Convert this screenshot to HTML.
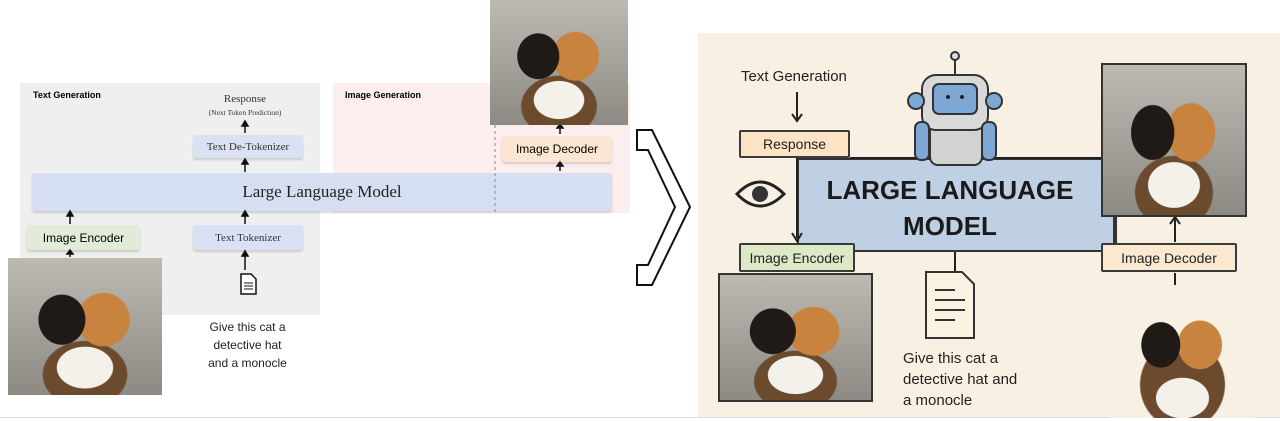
<!DOCTYPE html>
<html><head><meta charset="utf-8"><style>
*{margin:0;padding:0;box-sizing:border-box}
body{width:1280px;height:421px;background:#fff;position:relative;overflow:hidden;font-family:"Liberation Sans",sans-serif}
.a{position:absolute}
.box{position:absolute;display:flex;align-items:center;justify-content:center;border-radius:3px;box-shadow:0 2px 2px rgba(0,0,0,.15)}
.serif{font-family:"Liberation Serif",serif}
.cat{position:absolute;overflow:hidden;background:
radial-gradient(ellipse 30% 25% at 50% 80%,#f4f1ea 60%,transparent 62%),
radial-gradient(ellipse 25% 30% at 35% 45%,#1f1a16 60%,transparent 62%),
radial-gradient(ellipse 28% 32% at 62% 45%,#c8843f 60%,transparent 62%),
radial-gradient(ellipse 45% 40% at 50% 85%,#6b4a2e 60%,transparent 62%),
linear-gradient(#bdbab2,#8d8a84)}
.rbox{position:absolute;border:2px solid #3a3a3a;display:flex;align-items:center;justify-content:center;font-size:14px;color:#222;border-radius:2px}
</style></head><body>
<!-- left panel -->
<div class="a" style="left:20px;top:83px;width:300px;height:232px;background:#efefef"></div>
<div class="a" style="left:333px;top:83px;width:297px;height:130px;background:#fdeeee"></div>
<div class="a" style="left:33px;top:90px;font-size:9px;font-weight:bold">Text Generation</div>
<div class="a" style="left:345px;top:90px;font-size:9px;font-weight:bold">Image Generation</div>
<div class="a serif" style="left:195px;top:93px;width:100px;text-align:center;font-size:11px;color:#333">Response</div>
<div class="a serif" style="left:185px;top:108px;width:120px;text-align:center;font-size:7.5px;color:#333">(Next Token Prediction)</div>
<div class="box serif" style="left:193px;top:135px;width:110px;height:23px;background:#d9e1f3;font-size:11px;color:#333">Text De-Tokenizer</div>
<div class="box serif" style="left:32px;top:173px;width:580px;height:38px;background:#d6dff2;font-size:17px;color:#222">Large Language Model</div>
<div class="box" style="left:27px;top:225px;width:113px;height:25px;background:#e1ecd8;font-size:12px">Image Encoder</div>
<div class="box serif" style="left:193px;top:225px;width:110px;height:25px;background:#d9e1f3;font-size:11px;color:#333">Text Tokenizer</div>
<div class="box" style="left:502px;top:136px;width:110px;height:26px;background:#fae6d2;font-size:12px">Image Decoder</div>
<svg class="a" style="left:0;top:0" width="700" height="421">
<g stroke="#111" stroke-width="1.5" fill="#111">
<line x1="245" y1="133" x2="245" y2="124"/><polygon points="242,126 248,126 245,121"/>
<line x1="245" y1="172" x2="245" y2="163"/><polygon points="242,164 248,164 245,159"/>
<line x1="70" y1="224" x2="70" y2="215"/><polygon points="67,216 73,216 70,211"/>
<line x1="245" y1="224" x2="245" y2="215"/><polygon points="242,216 248,216 245,211"/>
<line x1="70" y1="257" x2="70" y2="253"/><polygon points="67,254 73,254 70,250"/>
<line x1="245" y1="270" x2="245" y2="256"/><polygon points="242,256 248,256 245,251"/>
<line x1="560" y1="134" x2="560" y2="127"/><polygon points="557,128 563,128 560,124"/>
<line x1="560" y1="171" x2="560" y2="166"/><polygon points="557,166 563,166 560,162"/>
</g>
<line x1="495" y1="125" x2="495" y2="212" stroke="#888" stroke-dasharray="3,3"/>
<path d="M241 274 h10 l5 5 v15 h-15z" fill="#fff" stroke="#111" stroke-width="1.5"/>
<g stroke="#111" stroke-width="1"><line x1="244" y1="283" x2="253" y2="283"/><line x1="244" y1="286" x2="253" y2="286"/><line x1="244" y1="289" x2="253" y2="289"/></g>
<path d="M637 130 L652 130 L690 207 L652 285 L637 285 L637 265 L648 265 L675 207 L648 150 L637 150 Z" fill="#fff" stroke="#111" stroke-width="2"/>
</svg>
<div class="cat" style="left:8px;top:258px;width:154px;height:137px"></div>
<div class="cat" style="left:490px;top:0;width:138px;height:125px"></div>
<div class="a" style="left:190px;top:318px;width:115px;text-align:center;font-size:12px;line-height:18px;color:#222">Give this cat a<br>detective hat<br>and a monocle</div>

<!-- right panel -->
<div class="a" style="left:698px;top:33px;width:582px;height:385px;background:#f8f1e3"></div>
<div class="a" style="left:0;top:417px;width:1280px;height:1px;background:#ddd"></div>
<div class="a" style="left:797px;top:158px;width:320px;height:94px;background:#bfd0e4;border:2px solid #333"></div>
<div class="a" style="left:800px;top:172px;width:300px;text-align:center;font-size:26px;font-weight:bold;line-height:36px;color:#1a1a1a">LARGE LANGUAGE<br>MODEL</div>
<div class="a" style="left:741px;top:68px;font-size:15px;color:#222">Text Generation</div>
<div class="rbox" style="left:739px;top:130px;width:111px;height:28px;background:#fbe3c4">Response</div>
<div class="rbox" style="left:739px;top:243px;width:116px;height:29px;background:#dde8c6">Image Encoder</div>
<div class="rbox" style="left:1101px;top:243px;width:136px;height:29px;background:#fbe8d0">Image Decoder</div>
<svg class="a" style="left:690px;top:0" width="590" height="421">
<g stroke="#222" stroke-width="2" fill="none">
<line x1="107" y1="92" x2="107" y2="120"/><path d="M102 114 L107 121 L112 114"/>
<line x1="107" y1="158" x2="107" y2="238"/><path d="M102 233 L107 241 L112 233"/>
<line x1="160" y1="158" x2="415" y2="158"/>
<line x1="265" y1="252" x2="265" y2="273"/>
<line x1="485" y1="242" x2="485" y2="218"/><path d="M480 224 L485 217 L490 224"/>
<line x1="485" y1="295" x2="485" y2="273"/>
<path d="M47 194 Q70 170 94 194 Q70 218 47 194Z" stroke-width="3"/>
</g>
<circle cx="70" cy="194" r="8" fill="#333"/>
<path d="M236 272 h36 l12 12 v54 h-48z" fill="#fbf3e2" stroke="#333" stroke-width="2"/>
<g stroke="#333" stroke-width="2"><line x1="245" y1="290" x2="265" y2="290"/><line x1="245" y1="300" x2="275" y2="300"/><line x1="245" y1="310" x2="275" y2="310"/><line x1="245" y1="320" x2="265" y2="320"/></g>
<!-- robot -->
<line x1="265" y1="58" x2="265" y2="75" stroke="#333" stroke-width="2"/><circle cx="265" cy="56" r="4" fill="#ddd" stroke="#333" stroke-width="2"/>
<rect x="240" y="120" width="52" height="45" rx="8" fill="#d3d3d3" stroke="#333" stroke-width="2"/>
<rect x="232" y="75" width="66" height="55" rx="14" fill="#d9d9d9" stroke="#333" stroke-width="2"/>
<rect x="243" y="84" width="44" height="30" rx="6" fill="#7fa7d4" stroke="#333" stroke-width="2"/>
<circle cx="226" cy="101" r="8" fill="#7fa7d4" stroke="#333" stroke-width="2"/><circle cx="304" cy="101" r="8" fill="#7fa7d4" stroke="#333" stroke-width="2"/>
<rect x="225" y="122" width="14" height="38" rx="6" fill="#7fa7d4" stroke="#333" stroke-width="2"/><rect x="292" y="122" width="14" height="38" rx="6" fill="#7fa7d4" stroke="#333" stroke-width="2"/>
<circle cx="258" cy="97" r="2" fill="#222"/><circle cx="272" cy="97" r="2" fill="#222"/>
</svg>
<div class="a" style="left:1113px;top:158px;width:2px;height:86px;background:#333"></div>
<div class="cat" style="left:718px;top:273px;width:155px;height:129px;border:2px solid #333"></div>
<div class="cat" style="left:1101px;top:63px;width:146px;height:154px;border:2px solid #333"></div>
<div class="cat" style="left:1110px;top:285px;width:145px;height:133px;background:
radial-gradient(ellipse 30% 25% at 50% 85%,#f4f1ea 60%,transparent 62%),
radial-gradient(ellipse 22% 28% at 35% 45%,#1f1a16 60%,transparent 62%),
radial-gradient(ellipse 25% 30% at 62% 45%,#c8843f 60%,transparent 62%),
radial-gradient(ellipse 48% 55% at 50% 75%,#6b4a2e 60%,transparent 62%),#f8f1e3"></div>
<div class="a" style="left:903px;top:348px;font-size:15px;line-height:21px;color:#222">Give this cat a<br>detective hat and<br>a monocle</div>
</body></html>
